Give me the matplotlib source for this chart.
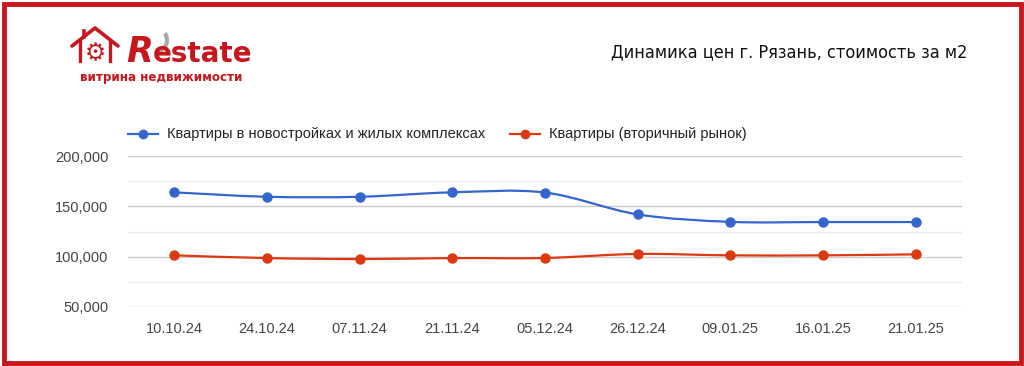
import matplotlib
matplotlib.use("Agg")
import matplotlib.pyplot as plt
import numpy as np
from matplotlib.path import Path
from matplotlib.patches import PathPatch, Rectangle, Arc
from matplotlib.lines import Line2D
from matplotlib.ticker import FuncFormatter, MultipleLocator

plt.rcParams['font.family'] = ['Liberation Sans', 'DejaVu Sans']

# data
dates = ["10.10.24", "24.10.24", "07.11.24", "21.11.24", "05.12.24",
         "26.12.24", "09.01.25", "16.01.25", "21.01.25"]
new_flats = [163900, 159500, 159500, 163900, 163700, 142000, 134600, 134400, 134400]
resale_flats = [101300, 98600, 97600, 98600, 98700, 102700, 101300, 101300, 102300]

series_names = ["Квартиры в новостройках и жилых комплексах", "Квартиры (вторичный рынок)"]
colors = ["#3366cc", "#dc3912"]
title = "Динамика цен г. Рязань, стоимость за м2"
logo_word = "Restate"
logo_sub = "витрина недвижимости"

RED = "#c8161d"


def smooth_path(xs, ys):
	"""Catmull-Rom style bezier through the points (like Google's curveType 'function')."""
	pts = np.column_stack([xs, ys]).astype(float)
	n = len(pts)
	verts = [pts[0]]
	codes = [Path.MOVETO]
	for i in range(n - 1):
		p0 = pts[i - 1] if i > 0 else pts[i]
		p1 = pts[i]
		p2 = pts[i + 1]
		p3 = pts[i + 2] if i + 2 < n else pts[i + 1]
		c1 = p1 + (p2 - p0) / 6.0
		c2 = p2 - (p3 - p1) / 6.0
		verts += [c1, c2, p2]
		codes += [Path.CURVE4] * 3
	return Path(verts, codes)


fig = plt.figure(figsize=(10.24, 3.66), dpi=100)
W, H = 1024, 366

ax = fig.add_axes([128 / W, 1 - 307 / H, (962 - 128) / W, (307 - 156) / H])
x = np.arange(len(dates))
for vals, c in zip([new_flats, resale_flats], colors):
	ax.add_patch(PathPatch(smooth_path(x, vals), fill=False, edgecolor=c, lw=1.6, zorder=3))
	ax.plot(x, vals, 'o', color=c, ms=6.5, zorder=4)

ax.set_xlim(-0.5, len(dates) - 0.5)
ax.set_ylim(50000, 200000)
ax.yaxis.set_major_locator(MultipleLocator(50000))
ax.yaxis.set_minor_locator(MultipleLocator(25000))
ax.yaxis.set_major_formatter(FuncFormatter(lambda v, p: "{:,}".format(int(v))))
ax.set_xticks(x)
ax.set_xticklabels(dates)
ax.grid(axis='y', which='major', color='#cccccc', lw=1)
ax.grid(axis='y', which='minor', color='#ebebeb', lw=1)
ax.set_axisbelow(True)
for s in ax.spines.values():
	s.set_visible(False)
ax.tick_params(which='both', length=0, labelsize=10.5, labelcolor='#444444')
ax.tick_params(axis='y', pad=14)
ax.tick_params(axis='x', pad=11)

# overlay in pixel coords for legend, logo, title, frame
ov = fig.add_axes([0, 0, 1, 1], zorder=-1)
ov.set_xlim(0, W)
ov.set_ylim(H, 0)
ov.axis('off')

# legend
for (lx, name, c) in [(128, series_names[0], colors[0]), (510, series_names[1], colors[1])]:
	ov.add_line(Line2D([lx, lx + 30], [134, 134], color=c, lw=1.6))
	ov.plot(lx + 15, 134, 'o', color=c, ms=6)
	ov.text(lx + 39, 134, name, fontsize=10.5, color='#222222', va='center', ha='left')

# title
ov.text(967, 52, title, fontsize=13, family='DejaVu Sans', fontstretch='condensed',
	fontweight='medium', color='#111111', ha='right', va='center')

# logo: house
ov.add_line(Line2D([72, 95, 118], [46, 28, 46], color=RED, lw=2.6, solid_capstyle='round'))
ov.add_line(Line2D([80, 80], [40, 61], color=RED, lw=2.4))
ov.add_line(Line2D([110, 110], [40, 61], color=RED, lw=2.4))
ov.add_line(Line2D([84, 84], [31, 37], color=RED, lw=2.6))
ov.text(95, 53, "\u2699", fontsize=17, color=RED, ha='center', va='center',
	family='DejaVu Sans')
ov.add_patch(Arc((153, 40), 28, 26, theta1=-30, theta2=75, color='#a8a8a8', lw=3))
ov.text(126, 62, logo_word[0], fontsize=25, fontweight='bold', style='italic', color=RED,
	family='DejaVu Sans', ha='left', va='baseline')
ov.text(153, 62, logo_word[1:], fontsize=20, fontweight='bold', color=RED,
	family='DejaVu Sans', ha='left', va='baseline')
ov.text(80, 78, logo_sub, fontsize=8.6, fontweight='bold', color=RED,
	family='DejaVu Sans', ha='left', va='center')

# frame
ov.add_patch(Rectangle((3.5, 3.5), W - 7, H - 7, fill=False, edgecolor=RED, lw=3.5))

fig.savefig("out.png", dpi=100)
